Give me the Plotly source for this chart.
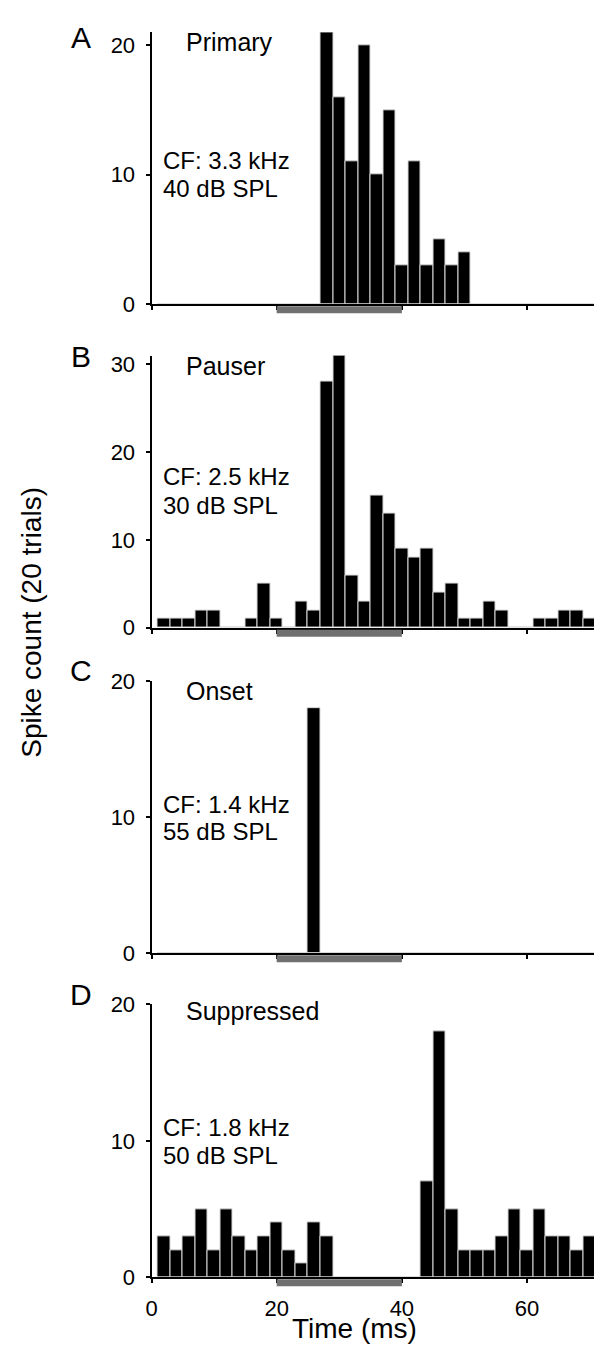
import plotly.graph_objects as go

# ---------------- data ----------------
BIN_CENTERS = list(range(2, 71, 2))  # 2 ms bins, centres in ms
BIN_WIDTH = 2

PRIMARY = [0, 0, 0, 0, 0, 0, 0, 0, 0, 0, 0, 0, 0,
           21, 16, 11, 20, 10, 15, 3, 11, 3, 5, 3, 4,
           0, 0, 0, 0, 0, 0, 0, 0, 0, 0]
PAUSER = [1, 1, 1, 2, 2, 0, 0, 1, 5, 1, 0, 3, 2,
          28, 31, 6, 3, 15, 13, 9, 8, 9, 4, 5, 1,
          1, 3, 2, 0, 0, 1, 1, 2, 2, 1]
ONSET = [0, 0, 0, 0, 0, 0, 0, 0, 0, 0, 0, 0, 18,
         0, 0, 0, 0, 0, 0, 0, 0, 0, 0, 0, 0,
         0, 0, 0, 0, 0, 0, 0, 0, 0, 0]
SUPPRESSED = [3, 2, 3, 5, 2, 5, 3, 2, 3, 4, 2, 1, 4,
              3, 0, 0, 0, 0, 0, 0, 0, 7, 18, 5, 2,
              2, 2, 3, 5, 2, 5, 3, 3, 2, 3]

PANEL_LETTERS = ["A", "B", "C", "D"]
PANEL_NAMES = ["Primary", "Pauser", "Onset", "Suppressed"]
CF_LABELS = ["CF: 3.3 kHz", "CF: 2.5 kHz", "CF: 1.4 kHz", "CF: 1.8 kHz"]
LEVEL_LABELS = ["40 dB SPL", "30 dB SPL", "55 dB SPL", "50 dB SPL"]
Y_TICKS = [[0, 10, 20], [0, 10, 20, 30], [0, 10, 20], [0, 10, 20]]
Y_MAX = [21, 31, 20, 20]
X_TICKS = [0, 20, 40, 60]
STIMULUS = [20, 40]  # ms
X_RANGE = [0, 70.7]

SERIES = [PRIMARY, PAUSER, ONSET, SUPPRESSED]

# ---------------- layout helpers ----------------
W, H = 594, 1357
FONT = "Liberation Sans, Arial, Helvetica, sans-serif"


def py(px):
    return 1 - px / H


def pxx(px):
    return px / W


# vertical pixel extents of each panel (top, bottom)
PANEL_PX = [(20.7, 297.7), (350.0, 627.3), (681.7, 959.0), (1011.0, 1289.0)]
X_LEFT = 147

fig = go.Figure()
layout = dict(
    width=W, height=H,
    margin=dict(l=0, r=0, t=0, b=0),
    paper_bgcolor="white", plot_bgcolor="white",
    showlegend=False,
    font=dict(family=FONT, color="black"),
    bargap=0,
)

annotations = []
shapes = []

for i, vals in enumerate(SERIES):
    n = "" if i == 0 else str(i + 1)
    xa, ya = "x" + n, "y" + n
    top, bot = PANEL_PX[i]
    fig.add_trace(go.Bar(
        x=BIN_CENTERS, y=vals, width=BIN_WIDTH,
        marker=dict(color="black", line=dict(color="#d8d8d8", width=1)),
        xaxis=xa, yaxis=ya, hoverinfo="skip",
    ))
    layout["xaxis" + n] = dict(
        domain=[pxx(X_LEFT), 1], range=X_RANGE, anchor=ya,
        showline=True, linecolor="black", linewidth=2,
        ticks="outside", ticklen=4, tickwidth=2, tickcolor="black",
        tickvals=X_TICKS, showticklabels=(i == 3),
        tickfont=dict(size=22, family=FONT, color="black"),
        showgrid=False, zeroline=False, ticklabelstandoff=6,
    )
    layout["yaxis" + n] = dict(
        domain=[py(bot), py(top)], range=[0, Y_MAX[i]], anchor=xa,
        showline=True, linecolor="black", linewidth=2,
        ticks="outside", ticklen=4, tickwidth=2, tickcolor="black",
        tickvals=Y_TICKS[i],
        tickfont=dict(size=22, family=FONT, color="black"),
        showgrid=False, zeroline=False, ticklabelstandoff=6,
    )
    # stimulus bar beneath the time axis
    shapes.append(dict(
        type="rect", xref=xa, yref=ya + " domain",
        x0=STIMULUS[0], x1=STIMULUS[1],
        ysizemode="pixel", yanchor=0, y0=-9, y1=-2,
        fillcolor="#707070", line=dict(width=0), layer="above",
    ))
    # panel letter
    letter_y = [25.5, 351, 671, 1001][i]
    annotations.append(dict(
        text=PANEL_LETTERS[i], xref="paper", yref="paper",
        x=pxx(75.5), y=py(letter_y), xanchor="center", yanchor="middle",
        showarrow=False, font=dict(size=30, family=FONT, color="black"),
    ))
    name_y = [30.5, 360.7, 691.3, 1017.3][i]
    annotations.append(dict(
        text=PANEL_NAMES[i], xref="paper", yref="paper",
        x=pxx(180), y=py(name_y), xanchor="left", yanchor="middle",
        showarrow=False, font=dict(size=25, family=FONT, color="black"),
    ))
    cf_y = [151.3, 473.3, 807.0, 1136.2][i]
    lv_y = [180.0, 502.5, 834.7, 1164.7][i]
    annotations.append(dict(
        text=CF_LABELS[i], xref="paper", yref="paper",
        x=pxx(156.5), y=py(cf_y), xanchor="left", yanchor="middle",
        showarrow=False, font=dict(size=24, family=FONT, color="black"),
    ))
    annotations.append(dict(
        text=LEVEL_LABELS[i], xref="paper", yref="paper",
        x=pxx(156.5), y=py(lv_y), xanchor="left", yanchor="middle",
        showarrow=False, font=dict(size=24, family=FONT, color="black"),
    ))

annotations.append(dict(
    text="Spike count (20 trials)", xref="paper", yref="paper",
    x=pxx(25), y=py(621.5), xanchor="center", yanchor="middle",
    textangle=-90, showarrow=False,
    font=dict(size=28, family=FONT, color="black"),
))
annotations.append(dict(
    text="Time (ms)", xref="paper", yref="paper",
    x=pxx(352), y=py(1340.8), xanchor="center", yanchor="middle",
    showarrow=False, font=dict(size=28, family=FONT, color="black"),
))

layout["annotations"] = annotations
layout["shapes"] = shapes
fig.update_layout(**layout)
fig.write_html(
    "out.html",
    config={"displayModeBar": False},
    post_script="document.body.style.margin='0';document.body.style.padding='0';"
                "document.documentElement.style.overflow='hidden';",
)
